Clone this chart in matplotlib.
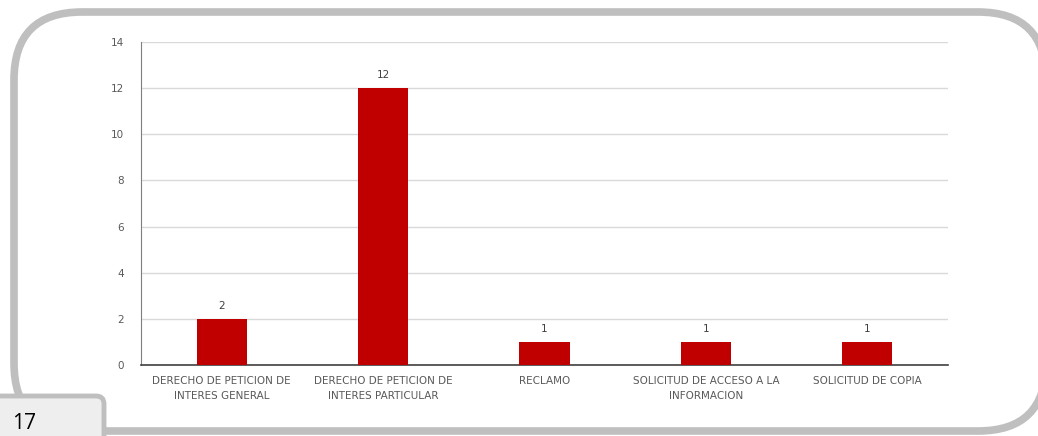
import matplotlib.pyplot as plt
from matplotlib.patches import FancyBboxPatch

categorias = ['DERECHO DE PETICION DE\nINTERES GENERAL',
              'DERECHO DE PETICION DE\nINTERES PARTICULAR',
              'RECLAMO',
              'SOLICITUD DE ACCESO A LA\nINFORMACION',
              'SOLICITUD DE COPIA']
valores = [2, 12, 1, 1, 1]
y_ticks = [0, 2, 4, 6, 8, 10, 12, 14]
pagina = '17'

plt.rcParams['font.family'] = ['Liberation Sans Narrow', 'DejaVu Sans']

W, H = 1038, 436
fig = plt.figure(figsize=(W / 100, H / 100), dpi=100)

# background layer in pixel coords for the frame and page tab
bg = fig.add_axes([0, 0, 1, 1])
bg.set_xlim(0, W)
bg.set_ylim(H, 0)
bg.axis('off')

frame = FancyBboxPatch((14, 12), 1032, 419, boxstyle='round,pad=0,rounding_size=68',
                       fc='white', ec='#bfbfbf', lw=5.5, zorder=1)
bg.add_patch(frame)
tab = FancyBboxPatch((-20, 396), 124, 60, boxstyle='round,pad=0,rounding_size=8',
                     fc='#eeeeee', ec='#bfbfbf', lw=3.5, zorder=2)
bg.add_patch(tab)
bg.text(12, 429, pagina, fontsize=15, color='black', family=['Open Sans', 'DejaVu Sans'],
        va='baseline', ha='left', zorder=3)

# chart
ax = fig.add_axes([141 / W, 71 / H, (948 - 141) / W, (394 - 71) / H])
ax.patch.set_alpha(0)
x = range(len(categorias))
bars = ax.bar(x, valores, width=0.31, color='#c00000', zorder=3)
for b, v in zip(bars, valores):
    ax.text(b.get_x() + b.get_width() / 2, v + 0.35, str(v), ha='center', va='bottom',
            fontsize=7.5, color='#404040')

ax.set_xlim(-0.5, len(categorias) - 0.5)
ax.set_ylim(0, 14)
ax.set_yticks(y_ticks)
ax.set_xticks(list(x))
ax.set_xticklabels(categorias, fontsize=7.5, color='#595959', linespacing=1.6)
ax.tick_params(axis='y', labelsize=7.5, labelcolor='#595959', length=0, pad=12)
ax.tick_params(axis='x', length=0, pad=8)
ax.grid(axis='y', color='#d9d9d9', lw=1, zorder=0)
for s in ['top', 'right']:
    ax.spines[s].set_visible(False)
ax.spines['left'].set_color('#7f7f7f')
ax.spines['bottom'].set_color('#404040')
ax.spines['bottom'].set_linewidth(1.2)

fig.savefig('out.png', dpi=100)
